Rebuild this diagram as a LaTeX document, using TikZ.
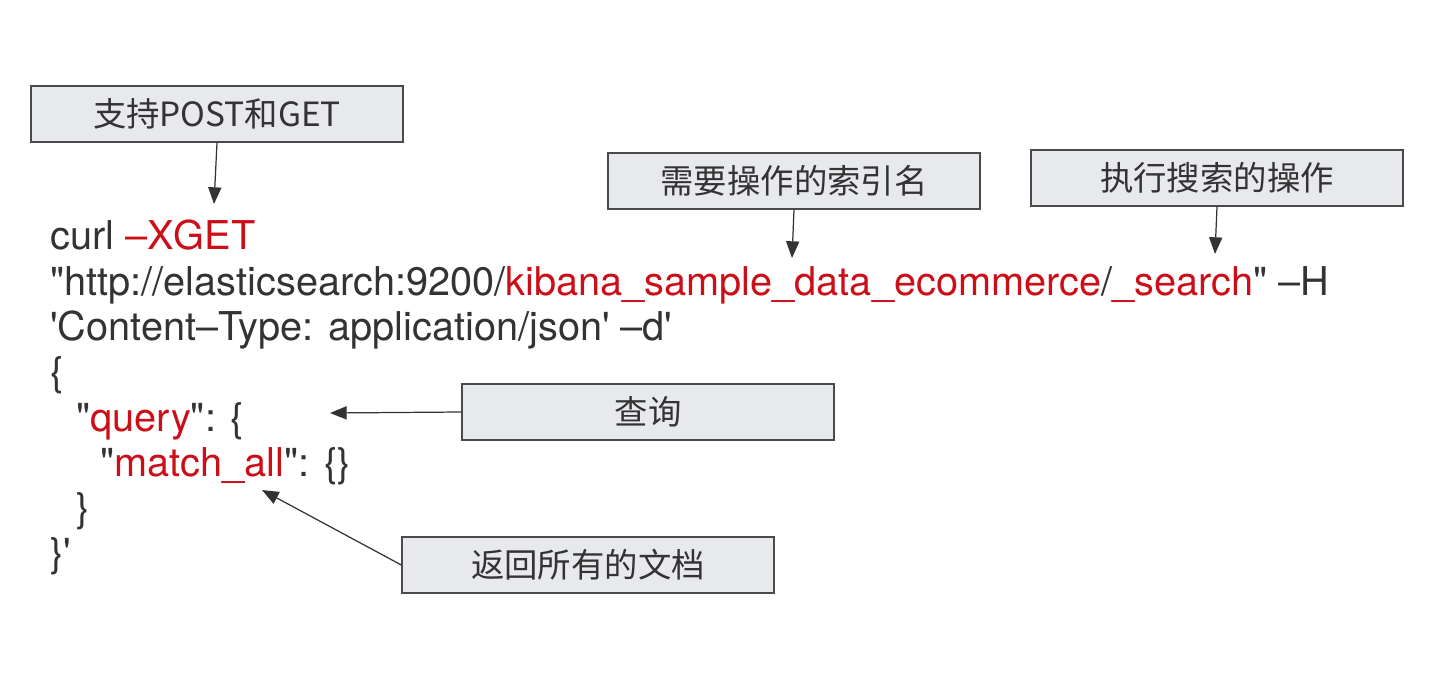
\documentclass[tikz,border=0pt]{standalone}
\usepackage{fontspec}
\setmainfont{TeX Gyre Heros}[Ligatures=TeXOff]
\newfontfamily\cjk{Noto Sans CJK SC}
\usetikzlibrary{arrows.meta}
\definecolor{codegray}{HTML}{333333}
\definecolor{codered}{HTML}{CC0E18}
\definecolor{boxfill}{HTML}{E8E9EC}
\definecolor{boxline}{HTML}{4A4A4A}
\tikzset{
  note/.style={draw=boxline, fill=boxfill, line width=0.8pt,
    minimum width=7.44cm, minimum height=1.12cm, inner sep=0pt,
    font=\cjk\fontsize{19}{23}\selectfont, text=codegray},
  code/.style={anchor=base west, inner sep=0pt,
    font=\fontsize{22.6}{27}\selectfont, text=codegray},
  pointer/.style={-{Triangle[length=9.5pt,width=7.5pt]}, line width=0.7pt, draw=codegray}
}
\newcommand{\hl}[1]{\textcolor{codered}{#1}}
\begin{document}
\begin{tikzpicture}[x=0.02cm,y=-0.02cm]
  \useasboundingbox (0,0) rectangle (1444,676);
  % callout boxes
  \node[note] (post) at (217,114) {支持POST和GET};
  \node[note] (index) at (794,181) {需要操作的索引名};
  \node[note] (search) at (1217,178) {执行搜索的操作};
  \node[note] (query) at (648,412) {查询};
  \node[note] (docs) at (588,565) {返回所有的文档};
  % request text
  \node[code] (l1) at (50,249) {curl \hl{–XGET}};
  \node[code] (l2) at (50,295) {"http://elasticsearch:9200/\hl{kibana\_sample\_data\_ecommerce}/\hl{\_search}" –H};
  \node[code] (l3) at (50,340) {'Content–Type: application/json' –d'};
  \node[code] (l4) at (50,385) {\{};
  \node[code] (l5) at (76,431) {"\hl{query}": \{};
  \node[code] (l6) at (100,476) {"\hl{match\_all}": \{\}};
  \node[code] (l7) at (76,521) {\}};
  \node[code] (l8) at (50,566) {\}'};
  % arrow targets
  \coordinate (xget) at (214,204);
  \coordinate (idx) at (792,258);
  \coordinate (srch) at (1215,254);
  \coordinate (qry) at (330,413);
  \coordinate (all) at (262,490);
  \begin{scope}[pointer]
    \draw (post.south) -- (xget);
    \draw (index.south) -- (idx);
    \draw (search.south) -- (srch);
    \draw (query.west) -- (qry);
    \draw (docs.west) -- (all);
  \end{scope}
\end{tikzpicture}
\end{document}
